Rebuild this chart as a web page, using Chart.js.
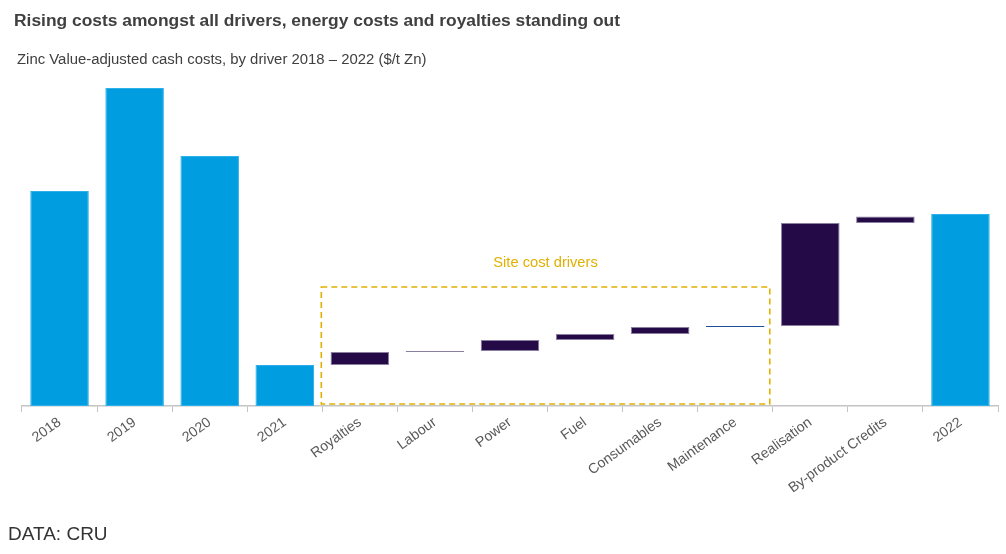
<!DOCTYPE html>
<html>
<head>
<meta charset="utf-8">
<script src="https://cdn.jsdelivr.net/npm/chart.js@4"></script>
<style>
  html,body{margin:0;padding:0;background:#fff;width:1006px;height:554px;overflow:hidden;font-family:"Liberation Sans",Arial,sans-serif;}
  #wrap{position:absolute;left:0;top:0;width:1006px;height:554px;}
  .title{position:absolute;left:14px;top:10px;font-size:17.4px;font-weight:bold;color:#404040;white-space:nowrap;}
  .sub{position:absolute;left:17px;top:51px;font-size:14.9px;color:#404040;white-space:nowrap;}
  .src{position:absolute;left:8px;top:523px;font-size:19px;color:#333;white-space:nowrap;}
</style>
</head>
<body>
<div id="wrap"><canvas id="c" width="1006" height="554"></canvas></div>
<div class="title">Rising costs amongst all drivers, energy costs and royalties standing out</div>
<div class="sub">Zinc Value-adjusted cash costs, by driver 2018 – 2022 ($/t Zn)</div>
<div class="src">DATA: CRU</div>
<script>
// ---- data ($/t Zn) ----
const categories = ["2018","2019","2020","2021","Royalties","Labour","Power","Fuel","Consumables","Maintenance","Realisation","By-product Credits","2022"];
const yearLabels = ["2018","2019","2020","2021"];
const yearTotals = [1075, 1590, 1250, 205];
const driverLabels = ["Royalties","Labour","Power","Fuel","Consumables","Maintenance","Realisation","By-product Credits"];
const driverDeltas = [65, 5, 55, 30, 35, 5, 515, 32];
const finalLabel = "2022";
const finalTotal = 960;
const boxLabel = "Site cost drivers";

// ---- build floating bars ----
const barData = [];
const colors = [];
const borders = [];
yearTotals.forEach(v => { barData.push([0, v]); colors.push('#009DE0'); borders.push('#2fb0e8'); });
let running = yearTotals[yearTotals.length - 1];
driverDeltas.forEach((d, i) => {
  barData.push([running, running + d]);
  running += d;
  colors.push(driverLabels[i] === 'Maintenance' ? '#1f4e9a' : '#240A46');
  borders.push(driverLabels[i] === 'Maintenance' ? '#1f4e9a' : '#8a7fa0');
});
barData.push([0, finalTotal]); colors.push('#009DE0'); borders.push('#2fb0e8');

const boxPlugin = {
  id: 'siteBox',
  afterDatasetsDraw(chart) {
    const x = chart.scales.x, y = chart.scales.y, ctx = chart.ctx;
    const i0 = categories.indexOf('Royalties'), i1 = categories.indexOf('Maintenance');
    const half = (x.getPixelForValue(1) - x.getPixelForValue(0)) / 2;
    const left = x.getPixelForValue(i0) - half - 1;
    const right = x.getPixelForValue(i1) + half - 3;
    const top = y.getPixelForValue(595);
    const bottom = y.getPixelForValue(0) - 2;
    ctx.save();
    ctx.strokeStyle = '#E2B000';
    ctx.lineWidth = 1.6;
    ctx.setLineDash([6, 4]);
    ctx.strokeRect(left, top, right - left, bottom - top);
    ctx.setLineDash([]);
    ctx.fillStyle = '#E2B000';
    ctx.font = '14.7px "Liberation Sans", Arial, sans-serif';
    ctx.textAlign = 'center';
    ctx.textBaseline = 'middle';
    ctx.fillText(boxLabel, (left + right) / 2, top - 24);
    ctx.restore();
  }
};

new Chart(document.getElementById('c'), {
  type: 'bar',
  data: {
    labels: categories,
    datasets: [{
      data: barData,
      backgroundColor: colors,
      borderColor: borders,
      borderWidth: 1,
      borderSkipped: false,
      barPercentage: 0.78,
      categoryPercentage: 1.0
    }]
  },
  options: {
    responsive: false,
    animation: false,
    devicePixelRatio: 1,
    layout: { padding: { top: 80, left: 22, right: 8, bottom: 0 } },
    plugins: { legend: { display: false }, tooltip: { enabled: false } },
    scales: {
      x: {
        grid: { display: true, drawOnChartArea: false, drawTicks: true, tickLength: 6, color: '#c4c4c4', offset: true },
        border: { display: true, color: '#c4c4c4', width: 1.5 },
        ticks: {
          color: '#595959',
          font: { family: '"Liberation Sans", Arial, sans-serif', size: 14.2 },
          maxRotation: 36, minRotation: 36, autoSkip: false, padding: 2
        },
        afterFit(scale) { scale.height = 148; }
      },
      y: {
        display: false,
        min: 0,
        max: 1630
      }
    }
  },
  plugins: [boxPlugin]
});
</script>
</body>
</html>
